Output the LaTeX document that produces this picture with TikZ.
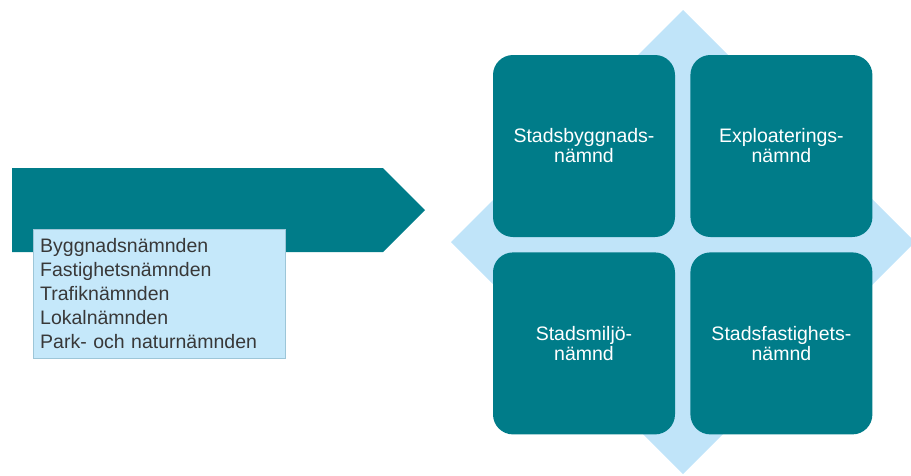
\documentclass[tikz,border=0pt]{standalone}
\usepackage{fontspec}
\setmainfont{Liberation Sans}
\usepackage{xcolor}
\usepackage{tikz}
\usetikzlibrary{positioning}

\definecolor{tealbox}{HTML}{007C89}
\definecolor{paleblue}{HTML}{C5E8FA}
\definecolor{diamondblue}{HTML}{C0E4F9}
\definecolor{listborder}{HTML}{9DC6D8}
\definecolor{listtext}{HTML}{383838}

\begin{document}
\begin{tikzpicture}[
    x=1pt, y=-1pt,
    node distance=15pt and 15pt,
    square/.style={rectangle, fill=tealbox, minimum size=182pt, inner sep=0pt, rounded corners=20pt, text=white, font=\fontsize{19.5}{20}\selectfont, align=center},
    listbox/.style={rectangle, draw=listborder, fill=paleblue, minimum width=252pt, minimum height=129pt, inner xsep=7pt, text width=238pt, align=left, text=listtext, font=\fontsize{19.5}{24}\selectfont}
]
    \useasboundingbox (0,0) rectangle (911,475);

    % Arrow and list
    \fill[tealbox] (12,168) -- (383,168) -- (425,210) -- (383,252) -- (12,252) -- cycle;
    \node[listbox, anchor=north west] (former) at (33,229) {Byggnadsnämnden\\Fastighetsnämnden\\Trafiknämnden\\Lokalnämnden\\Park- och naturnämnden};

    % Diamond behind the boards
    \fill[diamondblue] (683,10) -- (915,242) -- (683,474) -- (451,242) -- cycle;

    % Top row
    \node[square] (stadsbygg) at (584,146) {Stadsbyggnads-\\nämnd};
    \node[square, right=of stadsbygg] (exploat) {Exploaterings-\\nämnd};

    % Bottom row
    \node[square, below=of stadsbygg] (stadsmiljo) {Stadsmiljö-\\nämnd};
    \node[square, below=of exploat] (stadsfast) {Stadsfastighets-\\nämnd};
\end{tikzpicture}
\end{document}
